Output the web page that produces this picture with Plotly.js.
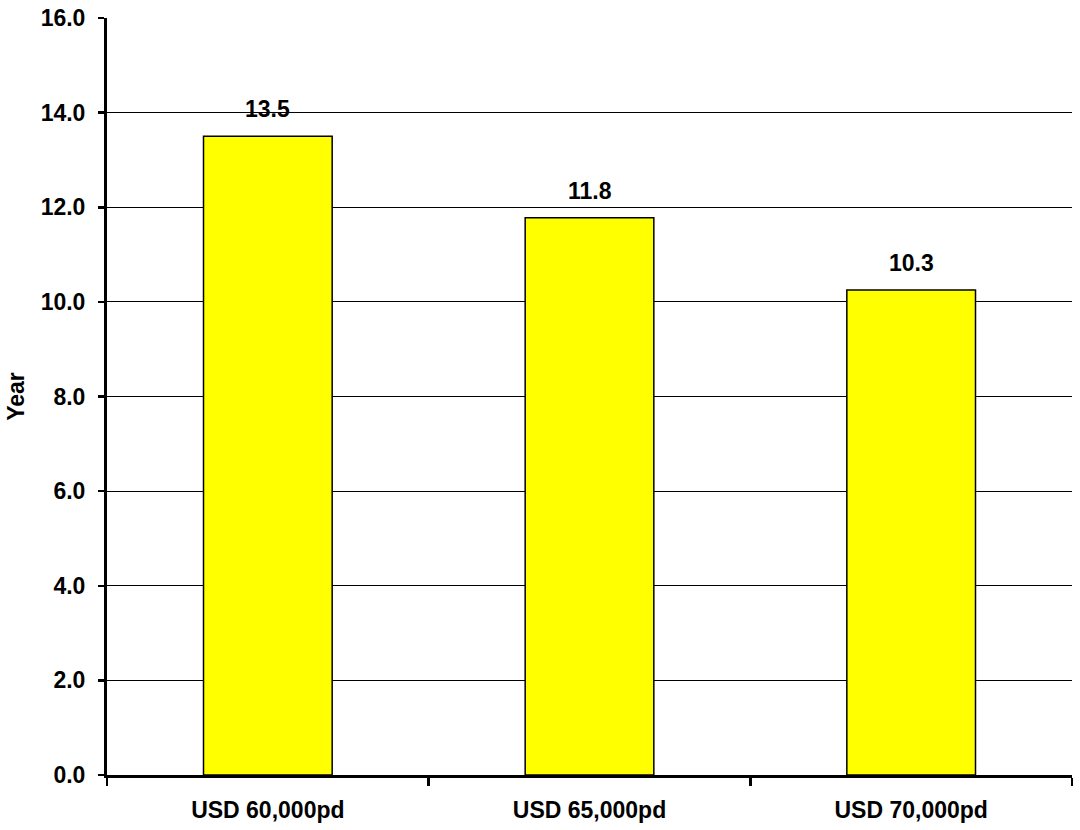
<!DOCTYPE html>
<html><head><meta charset="utf-8">
<script src="https://cdn.plot.ly/plotly-3.0.1.min.js"></script>
<style>html,body{margin:0;padding:0;background:#fff}#chart{width:1080px;height:830px}</style>
</head><body><div id="chart"></div>
<script>
const categories = ["USD 60,000pd", "USD 65,000pd", "USD 70,000pd"];
const years = [13.5, 11.78, 10.25];
const yTicks = [0, 2, 4, 6, 8, 10, 12, 14, 16];
const gridTicks = [2, 4, 6, 8, 10, 12, 14];
const yTitle = "Year";

const font = {family: "Liberation Sans, Arial, sans-serif", size: 23, color: "#000"};

const traces = [
  {type: "bar", x: categories, y: years, yaxis: "y", width: 0.4,
   marker: {color: "#ffff00", line: {color: "#000", width: 1.5}},
   hoverinfo: "skip"},
  {type: "scatter", mode: "markers", x: categories, y: years, yaxis: "y2",
   marker: {opacity: 0}, hoverinfo: "skip", showlegend: false}
];

const annotations = categories.map((c, i) => ({
  x: c, y: years[i], xref: "x", yref: "y", text: "<b>" + years[i].toFixed(1) + "</b>",
  showarrow: false, yanchor: "bottom", yshift: 12, font: font
}));

const layout = {
  width: 1080, height: 830,
  margin: {l: 107, r: 8, t: 18, b: 55},
  paper_bgcolor: "#fff", plot_bgcolor: "#fff",
  showlegend: false,
  font: font,
  xaxis: {type: "category", showline: true, linecolor: "#000", linewidth: 3,
    ticks: "outside", tickson: "boundaries", ticklen: 8, tickwidth: 2.5, tickcolor: "#000",
    tickfont: font, ticklabelstandoff: 12, showgrid: false, fixedrange: true,
    tickprefix: "<b>", ticksuffix: "</b>"},
  yaxis: {range: [0, 16], tickvals: gridTicks, showticklabels: false, ticks: "",
    showgrid: true, gridcolor: "#000", gridwidth: 1, zeroline: false, showline: false},
  yaxis2: {overlaying: "y", side: "left", range: [0, 16], tickvals: yTicks,
    ticktext: yTicks.map(v => "<b>" + v.toFixed(1) + "</b>"),
    showgrid: false, zeroline: false, showline: true, linecolor: "#000", linewidth: 3,
    ticks: "outside", ticklen: 6, tickwidth: 2.5, tickcolor: "#000", tickfont: font,
    ticklabelstandoff: 8,
    title: {text: "<b>" + yTitle + "</b>", font: font, standoff: 10}},
  annotations: annotations,
  bargap: 0.6
};

Plotly.newPlot("chart", traces, layout, {displayModeBar: false, staticPlot: true});
</script></body></html>
